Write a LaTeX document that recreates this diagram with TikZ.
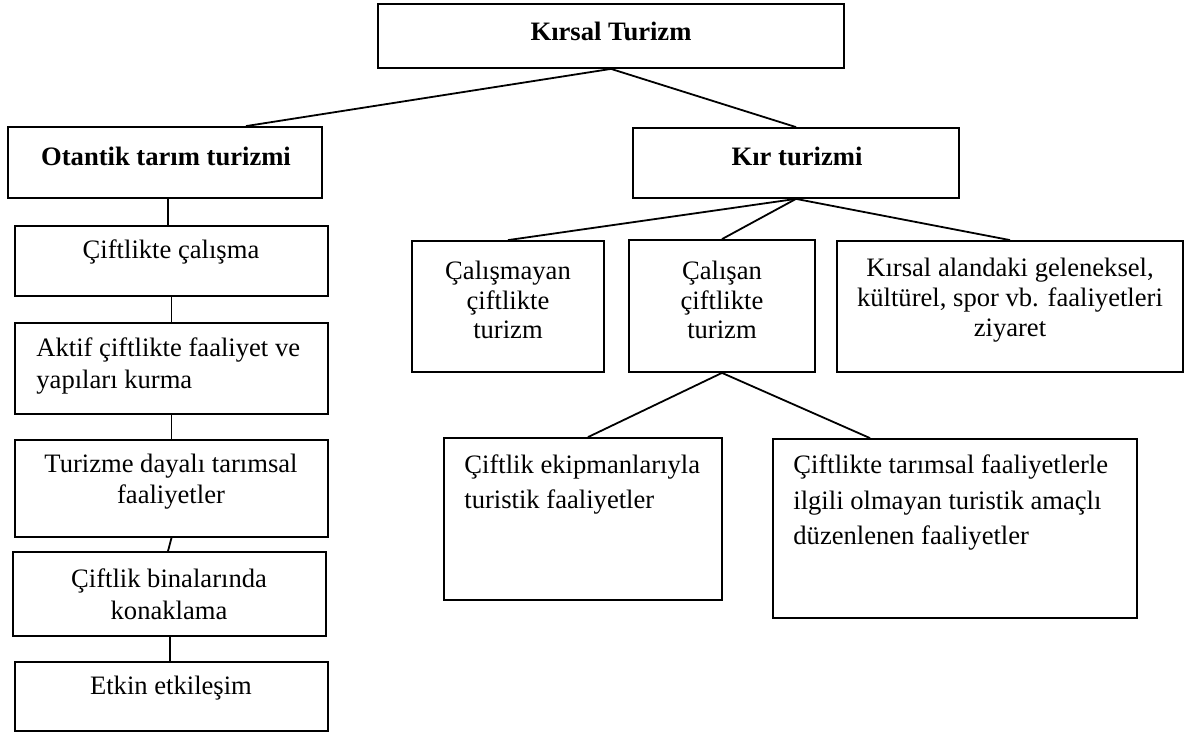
\documentclass[tikz,border=0pt]{standalone}
\usepackage{fontspec}
\setmainfont{Liberation Serif}
\usepackage{tikz}
\usetikzlibrary{calc, positioning, fit}

\begin{document}
\begin{tikzpicture}[
        x=0.5pt, y=-0.5pt,
        box/.style={draw, line width=0.9pt, inner sep=0pt},
        txt/.style={inner sep=0pt, align=center, font=\fontsize{13.3}{16}\selectfont},
        head/.style={txt, font=\fontsize{13.3}{16}\selectfont\bfseries},
        link/.style={line width=0.9pt}
    ]
        \useasboundingbox (0,0) rectangle (1185,733);

        % boxes
        \node[box, fit={(378,4) (844,68)}] (kirsal) {};
        \node[box, fit={(8,127) (322,198)}] (otantik) {};
        \node[box, fit={(633,128) (959,198)}] (kir) {};
        \node[box, fit={(15,226) (328,296)}] (calisma) {};
        \node[box, fit={(15,323) (328,414)}] (aktif) {};
        \node[box, fit={(15,440) (328,537)}] (turizme) {};
        \node[box, fit={(13,552) (326,636)}] (binalar) {};
        \node[box, fit={(15,662) (328,731)}] (etkin) {};
        \node[box, fit={(412,241) (604,372)}] (calismayan) {};
        \node[box, fit={(629,240) (815,372)}] (calisan) {};
        \node[box, fit={(837,241) (1183,372)}] (geleneksel) {};
        \node[box, fit={(444,438) (722,600)}] (ekipman) {};
        \node[box, fit={(773,439) (1137,618)}] (tarimsal) {};

        % texts
        \node[head] (kirsal-t) at (611,31) {Kırsal Turizm};
        \node[head] (otantik-t) at (166,156) {Otantik tarım turizmi};
        \node[head] (kir-t) at (797,156) {Kır turizmi};
        \node[txt] (calisma-t) at (171,252) {Çiftlikte çalışma};
        \node[txt, align=left, anchor=west] (aktif-t) at (36,366) {Aktif çiftlikte faaliyet ve\\yapıları kurma};
        \node[txt, font=\fontsize{13.3}{15.5}\selectfont] (turizme-t) at (171,482) {Turizme dayalı tarımsal\\faaliyetler};
        \node[txt] (binalar-t) at (169,594) {Çiftlik binalarında\\konaklama};
        \node[txt] (etkin-t) at (171,688) {Etkin etkileşim};
        \node[txt, font=\fontsize{13.3}{14.75}\selectfont] (calismayan-t) at (508,300) {Çalışmayan\\çiftlikte\\turizm};
        \node[txt, font=\fontsize{13.3}{14.75}\selectfont] (calisan-t) at (722,300) {Çalışan\\çiftlikte\\turizm};
        \node[txt, font=\fontsize{13.3}{15}\selectfont] (geleneksel-t) at (1010,300) {Kırsal alandaki geleneksel,\\kültürel, spor vb. faaliyetleri\\ziyaret};
        \node[txt, align=left, anchor=west, font=\fontsize{13.3}{17.5}\selectfont] (ekipman-t) at (464,485) {Çiftlik ekipmanlarıyla\\turistik faaliyetler};
        \node[txt, align=left, anchor=west, font=\fontsize{13.3}{17.75}\selectfont] (tarimsal-t) at (793,503) {Çiftlikte tarımsal faaliyetlerle\\ilgili olmayan turistik amaçlı\\düzenlenen faaliyetler};

        % connectors
        \draw[link] (kirsal.south) -- ([xshift=40.5pt]otantik.north);
        \draw[link] (kirsal.south) -- (kir.north);
        \draw[link] ([xshift=1.5pt]otantik.south) -- ([xshift=-1.75pt]calisma.north);
        \draw[link] (calisma.south) -- (aktif.north);
        \draw[link] (aktif.south) -- (turizme.north);
        \draw[link] (turizme.south) -- ([xshift=-0.75pt]binalar.north);
        \draw[link] ([xshift=0.25pt]binalar.south) -- ([xshift=-0.75pt]etkin.north);
        \draw[link] (kir.south) -- (calismayan.north);
        \draw[link] (kir.south) -- (calisan.north);
        \draw[link] (kir.south) -- (geleneksel.north);
        \draw[link] (calisan.south) -- ([xshift=2.5pt]ekipman.north);
        \draw[link] (calisan.south) -- ([xshift=-42.5pt]tarimsal.north);
    \end{tikzpicture}
\end{document}
